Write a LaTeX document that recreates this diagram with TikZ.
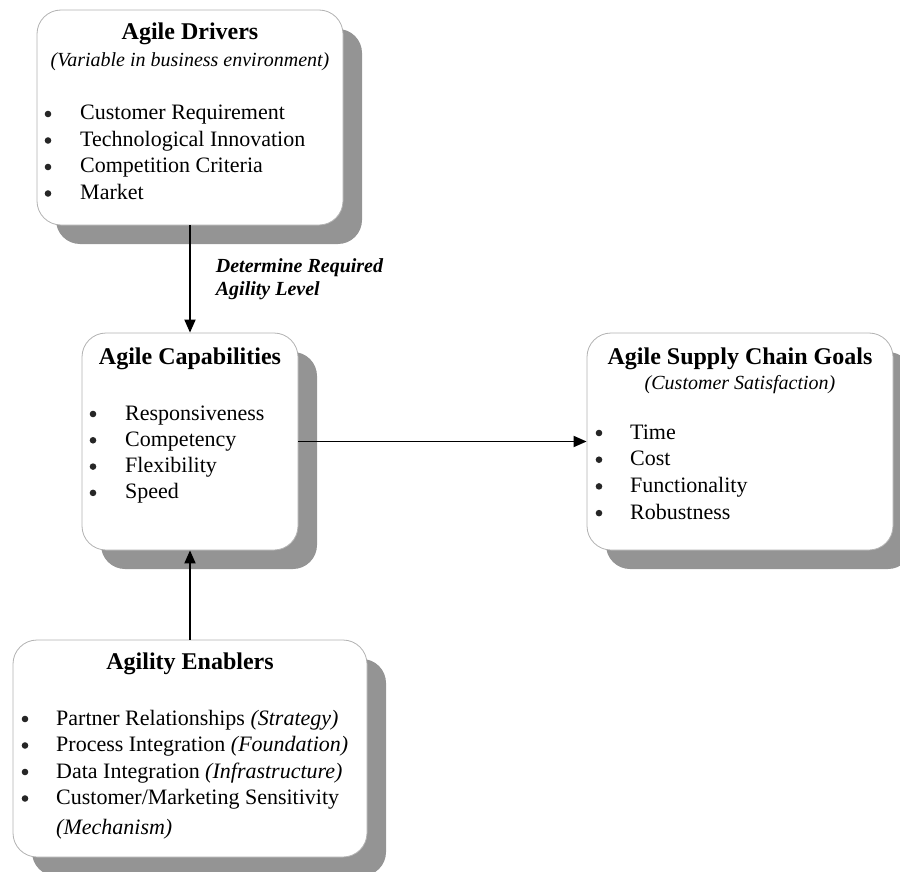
\documentclass[tikz,border=0pt]{standalone}
\usepackage{fontspec}
\setmainfont{Liberation Serif}
\usetikzlibrary{shadows,arrows.meta}
\tikzset{
  box/.style={draw=black!30, line width=0.8pt, fill=white, rounded corners=24pt, inner sep=0pt,
    drop shadow={shadow xshift=19pt, shadow yshift=-19pt, fill=black!42, opacity=1}},
  title/.style={anchor=base, inner sep=0pt, font=\fontsize{24}{28}\selectfont\bfseries},
  sub/.style={anchor=base, inner sep=0pt, font=\fontsize{20}{24}\selectfont\itshape},
  item/.style={anchor=base west, inner sep=0pt, font=\fontsize{22}{26}\selectfont},
  dot/.style={fill=black!85},
  flow/.style={line width=1.8pt, -{Triangle[length=13pt,width=11pt]}}
}
\begin{document}
\begin{tikzpicture}[x=1pt,y=-1pt]
  \useasboundingbox (0,0) rectangle (900,872);
  % boxes
  \node[box, minimum width=306pt, minimum height=215pt] (drv) at (190,117.5) {};
  \node[box, minimum width=216pt, minimum height=217pt] (cap) at (190,441.5) {};
  \node[box, minimum width=306pt, minimum height=217pt] (goal) at (740,441.5) {};
  \node[box, minimum width=354pt, minimum height=217pt] (enb) at (190,748.5) {};
  % titles
  \node[title] (drv-t) at (190,40) {Agile Drivers};
  \node[sub] (drv-s) at (190,67) {(Variable in business environment)};
  \node[title] (cap-t) at (190,364) {Agile Capabilities};
  \node[title] (goal-t) at (740,364) {Agile Supply Chain Goals};
  \node[sub] (goal-s) at (740,389) {(Customer Satisfaction)};
  \node[title] (enb-t) at (190,669) {Agility Enablers};
  % lists
  \foreach \t [count=\i from 0] in {Customer Requirement, Technological Innovation, Competition Criteria, Market}{
    \fill[dot] (48,114+26.5*\i) circle (3.3pt);
    \node[item] (drv-\i) at (80,120+26.5*\i) {\t};
  }
  \foreach \t [count=\i from 0] in {Responsiveness, Competency, Flexibility, Speed}{
    \fill[dot] (93,414+26.3*\i) circle (3.3pt);
    \node[item] (cap-\i) at (125,420+26.3*\i) {\t};
  }
  \foreach \t [count=\i from 0] in {Time, Cost, Functionality, Robustness}{
    \fill[dot] (599,433+26.7*\i) circle (3.3pt);
    \node[item] (goal-\i) at (630,439+26.7*\i) {\t};
  }
  \foreach \t [count=\i from 0] in {{Partner Relationships \textit{(Strategy)}},
      {Process Integration \textit{(Foundation)}}, {Data Integration \textit{(Infrastructure)}},
      {Customer/Marketing Sensitivity}}{
    \fill[dot] (25,719+26.5*\i) circle (3.3pt);
    \node[item] (enb-\i) at (56,725+26.5*\i) {\t};
  }
  \node[item, font=\fontsize{22}{26}\selectfont\itshape] (enb-m) at (56,834) {(Mechanism)};
  % connectors
  \draw[flow] (drv) -- node[right=25pt, align=left, inner sep=0pt,
    font=\fontsize{20}{23}\selectfont\bfseries\itshape] (lvl) {Determine Required\\Agility Level} (cap);
  \draw[flow] (cap) -- (goal);
  \draw[flow] (enb) -- (cap);
\end{tikzpicture}
\end{document}
